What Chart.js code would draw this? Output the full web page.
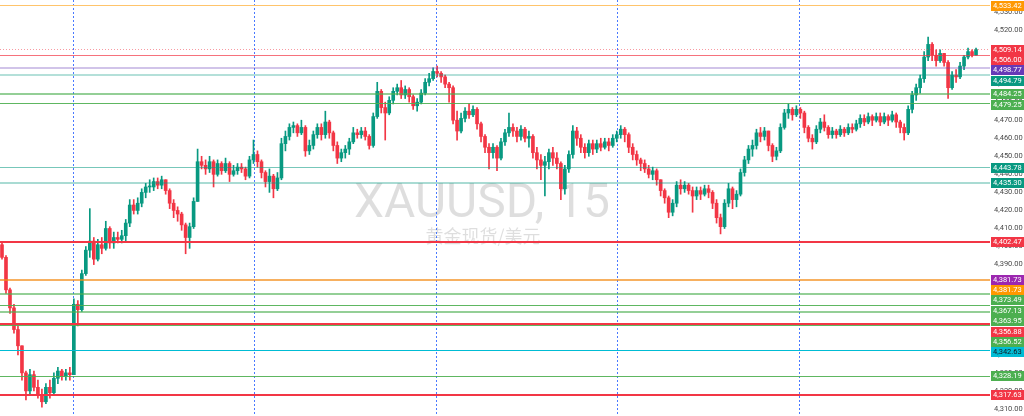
<!DOCTYPE html>
<html>
<head>
<meta charset="utf-8">
<title>XAUUSD, 15</title>
<script src="https://cdn.jsdelivr.net/npm/chart.js@4.4.1/dist/chart.umd.min.js"></script>
<style>
    html, body { margin: 0; padding: 0; background: #ffffff; }
    canvas { display: block; }
</style>
</head>
<body>
<canvas id="myChart" width="1024" height="416"></canvas>
<script>
// XAUUSD 15m candles from left to right
var firstOpen = 4401;
var closes = [
    4394, 4376, 4366, 4354, 4345, 4330, 4320, 4329, 4322, 4318, 4314, 4322, 4319, 4327, 4331, 4328, 4330, 4329, 4368, 4365,
    4385, 4398, 4403, 4393, 4401, 4399, 4410, 4402, 4405, 4404, 4406, 4413, 4423, 4420, 4424, 4430, 4433, 4433, 4436, 4434,
    4437, 4431, 4424, 4420, 4418, 4412, 4405, 4411, 4425, 4447, 4445, 4443, 4447, 4440, 4446, 4442, 4446, 4440, 4442, 4444,
    4443, 4439, 4448, 4451, 4447, 4441, 4436, 4439, 4432, 4438, 4457, 4461, 4466, 4467, 4463, 4466, 4453, 4456, 4462, 4466,
    4462, 4469, 4463, 4456, 4449, 4452, 4454, 4458, 4463, 4462, 4464, 4461, 4456, 4472, 4486, 4477, 4474, 4481, 4486, 4488,
    4484, 4487, 4483, 4478, 4480, 4485, 4491, 4493, 4497, 4496, 4494, 4490, 4488, 4470, 4464, 4471, 4475, 4473, 4476, 4468,
    4461, 4455, 4452, 4455, 4449, 4458, 4463, 4466, 4464, 4461, 4465, 4460, 4461, 4452, 4448, 4445, 4447, 4452, 4449, 4446,
    4432, 4443, 4451, 4464, 4460, 4455, 4452, 4457, 4454, 4457, 4455, 4458, 4456, 4460, 4462, 4465, 4462, 4455, 4451, 4448,
    4446, 4443, 4440, 4442, 4437, 4431, 4427, 4419, 4424, 4434, 4432, 4434, 4431, 4428, 4431, 4429, 4432, 4430, 4424, 4416,
    4411, 4424, 4432, 4426, 4429, 4441, 4448, 4454, 4456, 4463, 4461, 4464, 4456, 4450, 4453, 4466, 4474, 4476, 4473, 4476,
    4474, 4466, 4460, 4458, 4465, 4469, 4466, 4462, 4464, 4462, 4465, 4463, 4466, 4465, 4468, 4471, 4469, 4472, 4470, 4472,
    4469, 4472, 4470, 4473, 4469, 4466, 4463, 4476, 4484, 4488, 4493, 4505, 4512, 4506, 4503, 4507, 4502, 4488, 4495, 4494,
    4500, 4505, 4508, 4506, 4509.14
];
var highs = [
    4402, 4395, 4377, 4368, 4356, 4345, 4331, 4332, 4331, 4326, 4321, 4324, 4326, 4330, 4333, 4332, 4332, 4333, 4371, 4370,
    4387, 4400, 4421, 4405, 4404, 4405, 4414, 4411, 4408, 4408, 4409, 4415, 4426, 4426, 4427, 4432, 4435, 4437, 4438, 4438,
    4439, 4437, 4432, 4426, 4422, 4419, 4413, 4413, 4427, 4454, 4450, 4448, 4450, 4448, 4448, 4447, 4449, 4447, 4445, 4446,
    4446, 4444, 4450, 4459, 4453, 4448, 4442, 4443, 4440, 4441, 4460, 4464, 4468, 4469, 4468, 4470, 4467, 4459, 4464, 4468,
    4468, 4475, 4470, 4464, 4458, 4454, 4456, 4460, 4466, 4465, 4466, 4466, 4462, 4474, 4491, 4487, 4480, 4483, 4488, 4490,
    4492, 4489, 4488, 4484, 4482, 4487, 4493, 4496, 4499, 4500, 4497, 4495, 4491, 4489, 4475, 4474, 4477, 4479, 4478, 4477,
    4469, 4462, 4457, 4457, 4456, 4460, 4465, 4474, 4468, 4466, 4467, 4466, 4464, 4462, 4455, 4451, 4450, 4454, 4455, 4452,
    4447, 4445, 4453, 4467, 4466, 4462, 4457, 4459, 4459, 4459, 4460, 4460, 4460, 4462, 4464, 4467, 4466, 4463, 4457, 4453,
    4449, 4448, 4445, 4444, 4443, 4437, 4432, 4428, 4426, 4436, 4437, 4436, 4435, 4433, 4433, 4433, 4434, 4434, 4431, 4426,
    4418, 4426, 4435, 4433, 4431, 4443, 4450, 4456, 4459, 4465, 4466, 4466, 4464, 4457, 4455, 4468, 4476, 4479, 4477, 4478,
    4477, 4475, 4467, 4462, 4467, 4471, 4473, 4467, 4466, 4465, 4467, 4466, 4468, 4468, 4470, 4473, 4473, 4474, 4473, 4474,
    4474, 4474, 4473, 4475, 4474, 4470, 4468, 4478, 4486, 4490, 4495, 4508, 4516, 4513, 4509, 4509, 4507, 4503, 4497, 4498,
    4502, 4506, 4510, 4509, 4510
];
var lows = [
    4393, 4374, 4363, 4352, 4340, 4326, 4315, 4318, 4320, 4316, 4311, 4313, 4316, 4318, 4324, 4326, 4326, 4326, 4329, 4356,
    4364, 4384, 4394, 4390, 4392, 4396, 4398, 4399, 4399, 4402, 4402, 4403, 4411, 4418, 4418, 4422, 4427, 4430, 4431, 4432,
    4432, 4429, 4421, 4416, 4414, 4409, 4396, 4399, 4410, 4425, 4443, 4440, 4441, 4433, 4439, 4440, 4441, 4436, 4439, 4440,
    4441, 4437, 4438, 4446, 4444, 4438, 4433, 4430, 4427, 4431, 4437, 4453, 4459, 4463, 4461, 4462, 4450, 4451, 4454, 4460,
    4459, 4460, 4460, 4453, 4446, 4447, 4449, 4451, 4457, 4460, 4460, 4459, 4454, 4455, 4471, 4474, 4459, 4473, 4479, 4484,
    4482, 4482, 4480, 4476, 4475, 4479, 4484, 4489, 4492, 4494, 4491, 4488, 4480, 4468, 4459, 4463, 4469, 4471, 4472, 4465,
    4458, 4452, 4443, 4449, 4442, 4448, 4456, 4461, 4461, 4458, 4459, 4458, 4455, 4449, 4443, 4437, 4428, 4443, 4445, 4443,
    4426, 4429, 4441, 4449, 4456, 4452, 4449, 4450, 4451, 4452, 4453, 4454, 4453, 4455, 4458, 4460, 4458, 4452, 4448, 4445,
    4442, 4441, 4438, 4437, 4434, 4428, 4424, 4416, 4417, 4422, 4429, 4430, 4429, 4419, 4426, 4426, 4428, 4427, 4421, 4413,
    4407, 4410, 4422, 4421, 4422, 4428, 4439, 4446, 4450, 4454, 4458, 4459, 4453, 4447, 4448, 4452, 4465, 4471, 4470, 4472,
    4471, 4463, 4458, 4454, 4457, 4463, 4464, 4460, 4460, 4460, 4461, 4461, 4462, 4463, 4464, 4466, 4467, 4468, 4467, 4469,
    4467, 4468, 4467, 4469, 4466, 4463, 4459, 4462, 4474, 4481, 4485, 4491, 4503, 4503, 4500, 4502, 4500, 4482, 4487, 4491,
    4493, 4498, 4504, 4505, 4506
];

// price axis ticks
var priceTicks = [4310, 4320, 4330, 4340, 4350, 4360, 4370, 4380, 4390, 4400, 4410, 4420,
    4430, 4440, 4450, 4460, 4470, 4480, 4490, 4500, 4510, 4520, 4530];

// session breaks, in candle index units
var dayBreaks = [17.8, 63.2, 108.8, 154.1, 199.7];

// horizontal levels drawn on the chart (drawn in this order, later ones on top)
var levelPrices = [4533.42, 4509.14, 4506.00, 4498.77, 4494.79, 4484.25, 4479.25, 4443.78, 4435.30, 4402.47,
    4381.73, 4381.73, 4373.49, 4367.13, 4363.95, 4356.52, 4356.88, 4342.63, 4328.19, 4317.63];

// how each level looks: line colour, width, dash, price tag colour, tag text colour
var levelStyles = [
    { line: '#ffc46b', width: 1, dash: [], tag: '#ff9800', text: '#ffffff' },
    { line: 'rgba(242,54,69,0.5)', width: 1, dash: [1, 2], tag: '#f23645', text: '#ffffff' },
    { line: 'rgba(242,54,69,0.7)', width: 1, dash: [], tag: '#f23645', text: '#ffffff' },
    { line: 'rgba(103,58,183,0.3)', width: 2, dash: [], tag: '#673ab7', text: '#ffffff' },
    { line: 'rgba(8,153,129,0.3)', width: 2, dash: [], tag: '#089981', text: '#ffffff' },
    { line: 'rgba(76,175,80,0.6)', width: 2, dash: [], tag: '#4caf50', text: '#ffffff' },
    { line: 'rgba(76,175,80,0.9)', width: 1, dash: [], tag: '#4caf50', text: '#ffffff' },
    { line: 'rgba(8,153,129,0.55)', width: 1, dash: [], tag: '#089981', text: '#ffffff' },
    { line: 'rgba(8,153,129,0.35)', width: 2, dash: [], tag: '#089981', text: '#ffffff' },
    { line: '#f23645', width: 2, dash: [], tag: '#f23645', text: '#ffffff' },
    { line: 'rgba(156,39,176,0.2)', width: 2, dash: [], tag: '#9c27b0', text: '#ffffff' },
    { line: 'rgba(255,152,0,0.6)', width: 2, dash: [], tag: '#ff9800', text: '#ffffff' },
    { line: 'rgba(76,175,80,0.6)', width: 2, dash: [], tag: '#4caf50', text: '#ffffff' },
    { line: 'rgba(76,175,80,0.9)', width: 1, dash: [], tag: '#4caf50', text: '#ffffff' },
    { line: 'rgba(76,175,80,0.6)', width: 2, dash: [], tag: '#4caf50', text: '#ffffff' },
    { line: 'rgba(76,175,80,0.9)', width: 1, dash: [], tag: '#4caf50', text: '#ffffff' },
    { line: '#f23645', width: 2, dash: [], tag: '#f23645', text: '#ffffff' },
    { line: '#00bcd4', width: 1, dash: [], tag: '#00bcd4', text: '#131722' },
    { line: 'rgba(76,175,80,0.9)', width: 1, dash: [], tag: '#4caf50', text: '#ffffff' },
    { line: '#f23645', width: 2, dash: [], tag: '#f23645', text: '#ffffff' }
];

var UP = '#089981';
var DOWN = '#f23645';

var opens = closes.map(function (c, i) { return i === 0 ? firstOpen : closes[i - 1]; });
var labels = closes.map(function (c, i) { return i; });
// a little empty room before the price axis
labels.push(closes.length, closes.length + 1, closes.length + 2);

var wicks = lows.map(function (l, i) {
    return [Math.min(l, opens[i], closes[i]), Math.max(highs[i], opens[i], closes[i])];
});
var bodies = closes.map(function (c, i) { return [opens[i], c]; });

function candleColor(ctx) {
    var i = ctx.dataIndex;
    return closes[i] >= opens[i] ? UP : DOWN;
}

function fmt(v) {
    return v.toLocaleString('en-US', { minimumFractionDigits: 2, maximumFractionDigits: 2 });
}

// snap a horizontal line to the pixel grid so it stays crisp
function crisp(py, width) {
    return width % 2 === 1 ? Math.round(py - 0.5) + 0.5 : Math.round(py);
}

// watermark + session separators, behind the candles
var background = {
    id: 'background',
    beforeDatasetsDraw: function (chart) {
        var c = chart.ctx;
        var area = chart.chartArea;
        var x = chart.scales.x;
        c.save();
        c.fillStyle = 'rgba(0,0,0,0.13)';
        c.textAlign = 'center';
        c.textBaseline = 'alphabetic';
        c.font = '48px Roboto';
        c.fillText('XAUUSD, 15', 482, 217);
        c.textBaseline = 'middle';
        c.font = '18px "Noto Sans CJK SC"';
        c.fillText('黄金现货/美元', 483, 236);

        c.strokeStyle = 'rgba(41,98,255,0.85)';
        c.lineWidth = 1;
        c.setLineDash([2, 2]);
        dayBreaks.forEach(function (v) {
            var px = Math.round(x.getPixelForValue(v)) + 0.5;
            c.beginPath();
            c.moveTo(px, area.top);
            c.lineTo(px, area.bottom);
            c.stroke();
        });
        c.restore();
    }
};

// level lines over the candles, price tags over the axis
var levels = {
    id: 'levels',
    afterDatasetsDraw: function (chart) {
        var c = chart.ctx;
        var area = chart.chartArea;
        var y = chart.scales.y;
        c.save();
        levelPrices.forEach(function (p, i) {
            var s = levelStyles[i];
            var py = crisp(y.getPixelForValue(p), s.width);
            c.strokeStyle = s.line;
            c.lineWidth = s.width;
            c.setLineDash(s.dash);
            c.beginPath();
            c.moveTo(area.left, py);
            c.lineTo(area.right, py);
            c.stroke();
        });
        c.restore();
    },
    afterDraw: function (chart) {
        var c = chart.ctx;
        var area = chart.chartArea;
        var y = chart.scales.y;
        var order = levelPrices.map(function (p, i) { return i; });
        order.sort(function (a, b) { return (levelPrices[b] - levelPrices[a]) || (a - b); });
        var prev = -100;
        c.save();
        c.font = '7.5px Roboto';
        c.textAlign = 'left';
        c.textBaseline = 'middle';
        order.forEach(function (i) {
            var s = levelStyles[i];
            var py = Math.max(y.getPixelForValue(levelPrices[i]), prev + 10.4);
            prev = py;
            var top = Math.round(py - 5);
            c.fillStyle = s.tag;
            c.fillRect(area.right + 1, top, chart.width - area.right - 1, 10);
            c.fillStyle = s.text;
            c.fillText(fmt(levelPrices[i]), area.right + 3, top + 5.5);
        });
        c.restore();
    }
};

var ctx = document.getElementById('myChart').getContext('2d');
var chart = new Chart(ctx, {
    type: 'bar',
    data: {
        labels: labels,
        datasets: [
            {
                data: wicks,
                backgroundColor: candleColor,
                barThickness: 1,
                grouped: false,
                order: 2
            },
            {
                data: bodies,
                backgroundColor: candleColor,
                barThickness: 3,
                minBarLength: 1,
                grouped: false,
                order: 1
            }
        ]
    },
    options: {
        responsive: false,
        animation: false,
        devicePixelRatio: 1,
        events: [],
        layout: { padding: 0 },
        plugins: {
            legend: { display: false },
            tooltip: { enabled: false }
        },
        scales: {
            x: { display: false },
            y: {
                position: 'right',
                min: 4306.1,
                max: 4536.6,
                grid: { display: false, drawTicks: false },
                border: { display: false },
                afterBuildTicks: function (s) {
                    s.ticks = priceTicks.map(function (v) { return { value: v }; });
                },
                afterFit: function (s) {
                    s.width = 34;
                    s.paddingTop = 0;
                    s.paddingBottom = 0;
                },
                ticks: {
                    padding: 4,
                    autoSkip: false,
                    color: '#4a4a4a',
                    font: { family: 'Roboto', size: 7.5 },
                    callback: function (v) { return fmt(v); }
                }
            }
        }
    },
    plugins: [background, levels]
});
</script>
</body>
</html>
